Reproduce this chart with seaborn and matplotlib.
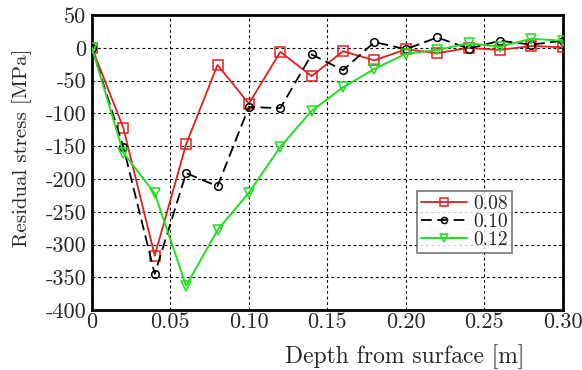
import matplotlib
matplotlib.use("Agg")
import matplotlib.pyplot as plt
import seaborn as sns
import pandas as pd

depth = [0.00, 0.02, 0.04, 0.06, 0.08, 0.10, 0.12, 0.14, 0.16, 0.18, 0.20, 0.22, 0.24, 0.26, 0.28, 0.30]
s008 = [0, -122, -317, -147, -26, -85, -6, -43, -5, -19, -2, -8, 0, -3, 3, 1]
s010 = [0, -151, -345, -191, -211, -90, -92, -10, -34, 9, -2, 16, -1, 11, 5, 11]
s012 = [0, -160, -222, -363, -278, -221, -151, -96, -60, -32, -9, -3, 7, 2, 14, 11]
series_labels = ["0.08", "0.10", "0.12"]
xticks = [0, 0.05, 0.10, 0.15, 0.20, 0.25, 0.30]
xticklabels = ["0", "0.05", "0.10", "0.15", "0.20", "0.25", "0.30"]
yticks = [50, 0, -50, -100, -150, -200, -250, -300, -350, -400]
yticklabels = ["50", "0", "-50", "-100", "-150", "-200", "-250", "-300", "-350", "-400"]

sns.set_style("white")
plt.rcParams["font.family"] = ["cmr10", "DejaVu Serif"]
plt.rcParams["axes.unicode_minus"] = False

fig = plt.figure(figsize=(5.82, 3.70), dpi=100)
ax = fig.add_axes([0.158, 0.162, 0.809, 0.797])

styles = [
    dict(color="#e02020", marker="s", linestyle="-", ms=6.5, lw=1.3),
    dict(color="black", marker="o", linestyle=(0, (6, 3)), ms=5.5, lw=1.3),
    dict(color="#22dd22", marker="v", linestyle="-", ms=7, lw=1.4),
]
for vals, lab, st in zip([s008, s010, s012], series_labels, styles):
    df = pd.DataFrame({"depth": depth, "stress": vals})
    sns.lineplot(data=df, x="depth", y="stress", ax=ax, label=lab,
                 color=st["color"], marker=st["marker"], linestyle=st["linestyle"],
                 markersize=st["ms"], linewidth=st["lw"], markerfacecolor="none",
                 markeredgecolor=st["color"], markeredgewidth=1.1, zorder=3)

ax.set_xlim(0, 0.30)
ax.set_ylim(-400, 50)
ax.set_xticks(xticks)
ax.set_xticklabels(xticklabels)
ax.set_yticks(yticks)
ax.set_yticklabels(yticklabels)
ax.tick_params(labelsize=16, length=0)
ax.tick_params(axis="x", pad=2)
ax.tick_params(axis="y", pad=4)
ax.grid(True, color="black", linestyle=(0, (2.5, 2.5)), linewidth=0.8)
for sp in ax.spines.values():
    sp.set_visible(True)
    sp.set_color("black")
    sp.set_linewidth(2)
ax.set_xlabel("Depth from surface [m]", fontsize=17, labelpad=0)
ax.xaxis.set_label_coords(0.665, -0.115)
ax.set_ylabel("Residual stress [MPa]", fontsize=15, labelpad=2)
ax.yaxis.set_label_coords(-0.128, 0.55)

leg = ax.legend(loc="lower left", bbox_to_anchor=(0.69, 0.195), fontsize=14,
                frameon=True, fancybox=False, handlelength=2.4, handletextpad=0.3,
                borderpad=0.2, labelspacing=0.0, borderaxespad=0, markerscale=0.8)
leg.get_frame().set_edgecolor("#555555")
leg.get_frame().set_linewidth(1.2)

fig.savefig("out.png", dpi=100)
